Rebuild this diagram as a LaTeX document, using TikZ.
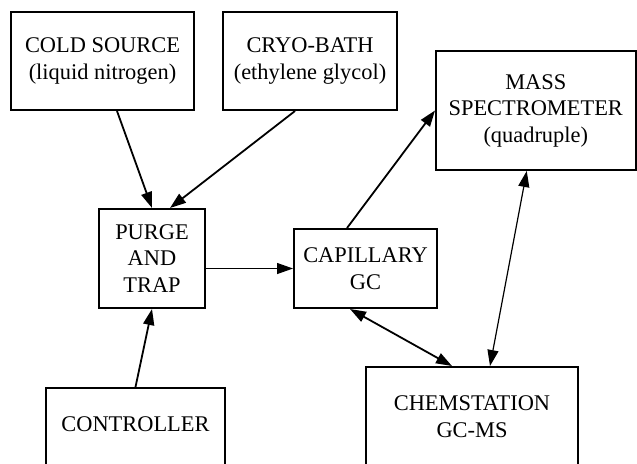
\documentclass[tikz,border=0pt]{standalone}
\usepackage{fontspec}
\setmainfont{Liberation Serif}
\usetikzlibrary{arrows.meta,calc}

\begin{document}
\begin{tikzpicture}[x=0.5pt,y=-0.5pt,
  unit/.style={draw, line width=1pt, inner sep=0pt, align=center,
    font=\fontsize{11.2}{13.25}\selectfont},
  flow/.style={-{Triangle[length=8pt,width=5.5pt]}, line width=0.9pt},
  link/.style={{Triangle[length=8pt,width=5.5pt]}-{Triangle[length=8pt,width=5.5pt]}, line width=0.9pt}]

\useasboundingbox (0,0) rectangle (637,463);
\clip (0,0) rectangle (637,463);

% The sources
\node[unit, minimum width=91.5pt, minimum height=49pt] (cold) at (102.5,61) {COLD SOURCE\\(liquid nitrogen)};
\node[unit, minimum width=87pt, minimum height=49pt] (cryo) at (310,61) {CRYO-BATH\\(ethylene glycol)};

% The line of instruments
\node[unit, minimum width=53pt, minimum height=49.5pt] (purge) at (152,258.5) {PURGE\\AND\\TRAP};
\node[unit, minimum width=71.5pt, minimum height=39.5pt] (cap) at (365.5,268.5) {CAPILLARY\\GC};
\node[unit, minimum width=99.75pt, minimum height=59.5pt] (mass) at (535.75,110.5) {MASS\\SPECTROMETER\\(quadruple)};

% The bottom boxes
\node[unit, anchor=north, minimum width=89.5pt, inner ysep=14.3pt, text height=7.4pt, text depth=30pt] (ctrl) at (135.5,387) {CONTROLLER};
\node[unit, minimum width=106pt, minimum height=49.5pt] (chem) at (472,416.5) {CHEMSTATION\\GC-MS};

% Arrows
\draw[flow] ($(cold.south)+(14.5,0)$) -- (purge.north);
\draw[flow] ($(cryo.south)+(-15,0)$) -- ($(purge.north)+(18,0)$);
\draw[flow, line width=0.6pt] (purge.east |- cap.west) -- (cap.west);
\draw[flow] (ctrl.north) -- (purge.south);
\draw[flow] ($(cap.north)+(-18.5,0)$) -- (mass.west);
\draw[link, line width=0.6pt] ($(mass.south)+(-9,0)$) -- ($(chem.north)+(18,0)$);
\draw[link] ($(cap.south)+(-15.5,0)$) -- ($(chem.north)+(-20,0)$);

\end{tikzpicture}
\end{document}
